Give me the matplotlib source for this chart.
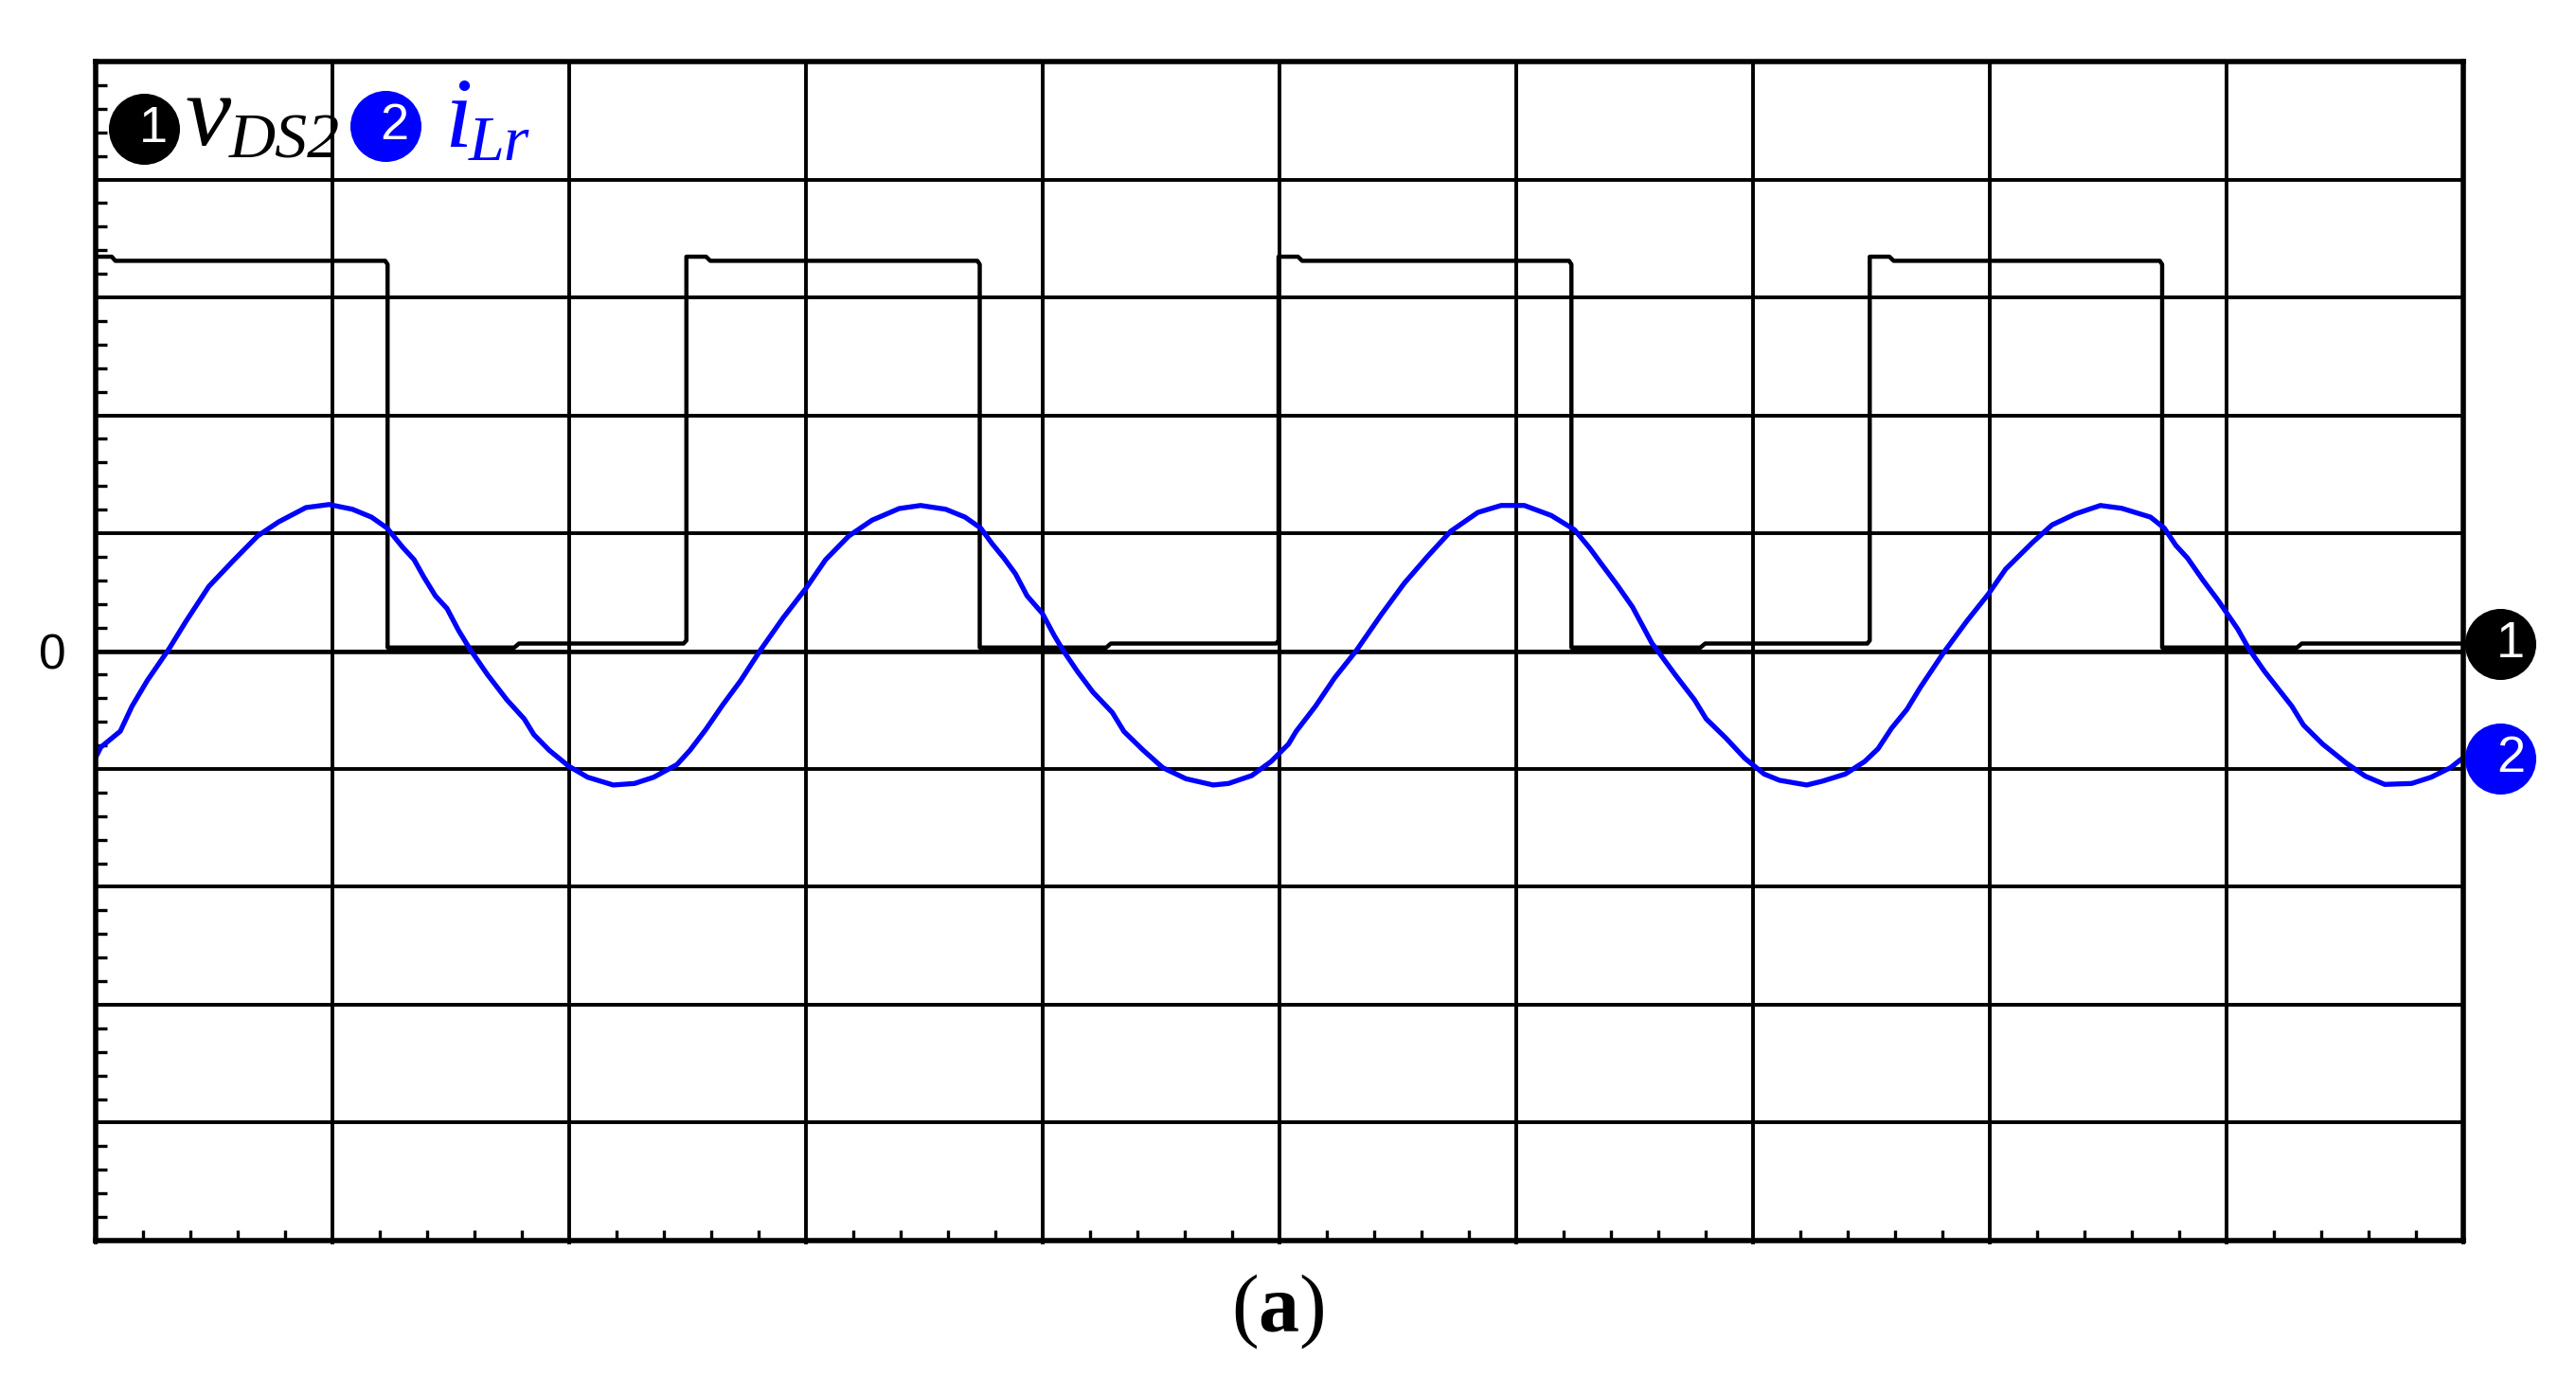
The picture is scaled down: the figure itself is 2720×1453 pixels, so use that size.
#!/usr/bin/env python3
# coding=utf-8
# oscilloscope style plot: v_DS2 (ch1) and i_Lr (ch2), units = divisions
import matplotlib
matplotlib.use('Agg')
import matplotlib.pyplot as plt
from matplotlib.ticker import MultipleLocator

plt.rcParams['mathtext.fontset'] = 'custom'
plt.rcParams['mathtext.rm'] = 'Liberation Serif'
plt.rcParams['mathtext.bf'] = 'Liberation Serif:bold'
plt.rcParams['mathtext.it'] = 'Liberation Serif:italic'

######## data (x and y in divisions)
t_vds = [0.000, 0.070, 0.085, 1.225, 1.235, 1.235, 1.770, 1.790, 2.485, 2.497,
         2.497, 2.580, 2.598, 3.726, 3.736, 3.736, 4.270, 4.290, 4.988, 4.998,
         4.998, 5.080, 5.098, 6.225, 6.235, 6.235, 6.780, 6.800, 7.485, 7.495,
         7.495, 7.578, 7.596, 8.720, 8.730, 8.730, 9.300, 9.320, 10.000]
v_ds2 = [3.345, 3.345, 3.31, 3.31, 3.28, 0.03, 0.03, 0.064, 0.064, 0.09,
         3.345, 3.345, 3.31, 3.31, 3.28, 0.03, 0.03, 0.064, 0.064, 0.09,
         3.345, 3.345, 3.31, 3.31, 3.28, 0.03, 0.03, 0.064, 0.064, 0.09,
         3.345, 3.345, 3.31, 3.31, 3.28, 0.03, 0.03, 0.064, 0.064]

t_ilr = [0.000, 0.024, 0.106, 0.155, 0.220, 0.310, 0.384, 0.480, 0.580, 0.686,
         0.775, 0.890, 0.988, 1.086, 1.167, 1.233, 1.298, 1.347, 1.388, 1.437,
         1.486, 1.535, 1.584, 1.657, 1.739, 1.812, 1.853, 1.918, 2.000, 2.080,
         2.188, 2.278, 2.359, 2.457, 2.512, 2.578, 2.651, 2.725, 2.807, 2.905,
         3.003, 3.085, 3.183, 3.281, 3.396, 3.486, 3.592, 3.674, 3.740, 3.789,
         3.838, 3.887, 3.936, 4.000, 4.050, 4.090, 4.149, 4.214, 4.296, 4.345,
         4.427, 4.509, 4.607, 4.722, 4.787, 4.885, 4.967, 5.040, 5.072, 5.154,
         5.235, 5.325, 5.431, 5.529, 5.627, 5.725, 5.840, 5.938, 6.036, 6.150,
         6.248, 6.314, 6.363, 6.428, 6.493, 6.575, 6.600, 6.673, 6.755, 6.804,
         6.886, 6.967, 7.049, 7.114, 7.229, 7.294, 7.392, 7.474, 7.530, 7.587,
         7.652, 7.709, 7.807, 7.905, 7.995, 8.069, 8.183, 8.265, 8.363, 8.469,
         8.559, 8.681, 8.739, 8.788, 8.837, 8.902, 8.967, 9.049, 9.098, 9.163,
         9.278, 9.327, 9.408, 9.507, 9.588, 9.670, 9.784, 9.866, 9.948, 9.990,
         10.000]
i_lr = [-0.910, -0.815, -0.680, -0.470, -0.250, 0.013, 0.254, 0.548, 0.760, 0.976,
        1.096, 1.217, 1.243, 1.203, 1.136, 1.043, 0.882, 0.775, 0.628, 0.468,
        0.361, 0.174, 0.013, -0.200, -0.414, -0.575, -0.709, -0.842, -0.976, -1.070,
        -1.136, -1.123, -1.070, -0.963, -0.842, -0.668, -0.455, -0.254, 0.000, 0.280,
        0.535, 0.775, 0.976, 1.110, 1.209, 1.235, 1.203, 1.136, 1.043, 0.909,
        0.789, 0.655, 0.468, 0.321, 0.134, 0.000, -0.174, -0.348, -0.521, -0.682,
        -0.842, -0.989, -1.083, -1.136, -1.123, -1.056, -0.936, -0.789, -0.682, -0.468,
        -0.227, 0.000, 0.307, 0.575, 0.802, 1.016, 1.176, 1.235, 1.235, 1.150,
        1.029, 0.869, 0.735, 0.561, 0.374, 0.067, 0.000, -0.200, -0.414, -0.575,
        -0.735, -0.909, -1.043, -1.096, -1.136, -1.104, -1.043, -0.936, -0.829, -0.655,
        -0.495, -0.307, -0.013, 0.254, 0.481, 0.695, 0.922, 1.070, 1.163, 1.235,
        1.211, 1.136, 1.043, 0.896, 0.789, 0.602, 0.428, 0.187, 0.013, -0.174,
        -0.468, -0.628, -0.789, -0.949, -1.061, -1.131, -1.123, -1.070, -0.989, -0.922,
        -0.910]

ch_names = ['1', '2']
ch_colors = ['black', '#0000ff']
div_x = list(range(0, 11))
div_y = list(range(-5, 6))

######################## PLOT
fig = plt.figure(figsize=(27.2, 14.53), dpi=100)
ax = fig.add_axes([0.03695, 0.09842, 0.91912, 0.85684])

######## scope grid
ax.set_xticks(div_x)
ax.set_yticks(div_y)
ax.xaxis.set_minor_locator(MultipleLocator(0.2))
ax.yaxis.set_minor_locator(MultipleLocator(0.2))
ax.set_xlim(0, 10)
ax.set_ylim(-5, 5)
ax.grid(True, which='major', color='black', lw=2.8, zorder=1)
ax.axhline(0, color='black', lw=3.3, zorder=1.5)
ax.set_axisbelow(True)
for sp in ax.spines.values():
    sp.set_linewidth(4.0)
    sp.set_zorder(5)

ax.set_xticklabels([])
ax.set_yticklabels(['0' if v == 0 else '' for v in div_y],
                   fontsize=37, fontfamily='Liberation Sans')
ax.tick_params(axis='y', which='major', length=0, pad=22)
ax.tick_params(axis='y', which='minor', direction='in', length=8.6, width=2.4)
ax.tick_params(axis='x', which='major', direction='out', length=3, width=2.8)
ax.tick_params(axis='x', which='minor', direction='in', length=8, width=2.4)

######## traces
ax.plot(t_vds, v_ds2, color=ch_colors[0], lw=3.2, zorder=3)
ax.plot(t_ilr, i_lr, color=ch_colors[1], lw=3.8, zorder=4)

######## channel markers at right edge
for name, col, yend in zip(ch_names, ch_colors, [v_ds2[-1], i_lr[-1]]):
    ax.plot([10.158], [yend], 'o', ms=53, color=col, clip_on=False, zorder=6)
    ax.annotate(name, xy=(10.158, yend), xytext=(8, 0), textcoords='offset points',
                ha='center', va='center', color='white', fontsize=39,
                fontfamily='Liberation Sans', annotation_clip=False, zorder=7)

######## legend (top left)
for name, col, (cx, cy) in zip(ch_names, ch_colors, [(0.206, 4.43), (1.226, 4.455)]):
    ax.plot([cx], [cy], 'o', ms=53, color=col, clip_on=False, zorder=6)
    ax.annotate(name, xy=(cx, cy), xytext=(7, 0), textcoords='offset points',
                ha='center', va='center', color='white', fontsize=39,
                fontfamily='Liberation Sans', zorder=7)
ax.text(0.382, 4.297, 'v', fontsize=78, style='italic', fontfamily='Liberation Serif',
        color=ch_colors[0], ha='left', va='baseline', zorder=7)
ax.text(0.565, 4.185, 'DS2', fontsize=49, style='italic', fontfamily='Liberation Serif',
        color=ch_colors[0], ha='left', va='baseline', zorder=7)
ax.text(1.474, 4.281, 'i', fontsize=76, style='italic', fontfamily='Liberation Serif',
        color=ch_colors[1], ha='left', va='baseline', zorder=7)
ax.text(1.578, 4.161, 'Lr', fontsize=49, style='italic', fontfamily='Liberation Serif',
        color=ch_colors[1], ha='left', va='baseline', zorder=7)

######## caption
fig.text(0.496, 0.0317, '(' + r'$\mathbf{a}$' + ')', fontsize=62,
         fontfamily='Liberation Serif', ha='center', va='baseline')

fig.savefig('out.png', dpi=100, facecolor='white')
